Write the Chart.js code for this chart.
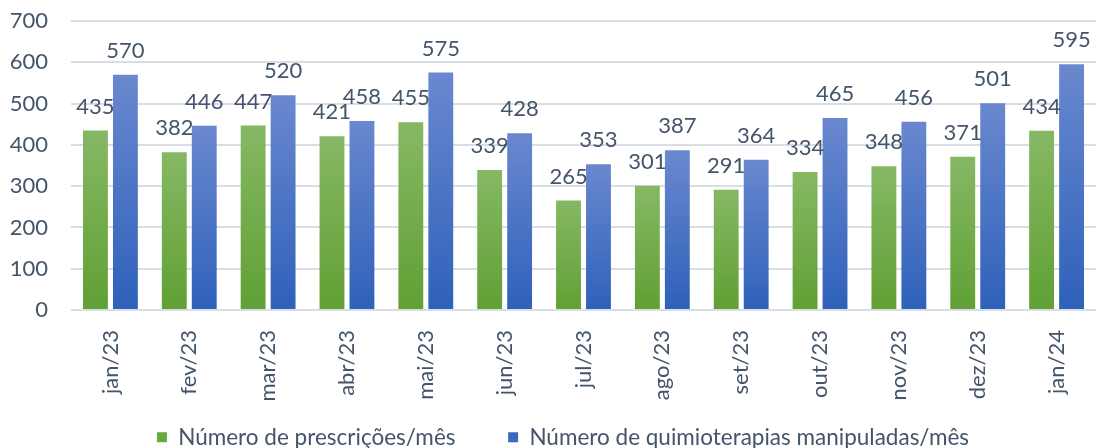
<!DOCTYPE html>
<html>
<head>
<meta charset="utf-8">
<script src="https://cdn.jsdelivr.net/npm/chart.js@4.4.1/dist/chart.umd.min.js"></script>
<style>
    html, body { margin: 0; padding: 0; background: #fff; }
    #wrap { width: 1096px; height: 448px; position: relative; }
</style>
</head>
<body>
<div id="wrap"><canvas id="chart"></canvas></div>
<script>
'use strict';

// ============================================================================
// Data
// ============================================================================

const months = ['jan/23', 'fev/23', 'mar/23', 'abr/23', 'mai/23', 'jun/23', 'jul/23',
    'ago/23', 'set/23', 'out/23', 'nov/23', 'dez/23', 'jan/24'];
const prescricoes = [435, 382, 447, 421, 455, 339, 265, 301, 291, 334, 348, 371, 434];
const quimioterapias = [570, 446, 520, 458, 575, 428, 353, 387, 364, 465, 456, 501, 595];
const seriesNames = ['Número de prescrições/mês', 'Número de quimioterapias manipuladas/mês'];

// ============================================================================
// Styles
// ============================================================================

const TEXT = '#44546a';
const FONT = "Lato, 'Noto Sans', sans-serif";
const FONT_SIZE = 22;
const GRID = '#d9dde4';
const PLOT_BOTTOM = 310;

// gradient per bar, lighter at the top
function barGradient(top, bottom) {
    return function(ctx) {
        const chart = ctx.chart;
        const y = chart.scales.y;
        if (!y || ctx.raw === undefined) return bottom;
        const y0 = y.getPixelForValue(0);
        const y1 = y.getPixelForValue(ctx.raw);
        if (!isFinite(y0) || !isFinite(y1) || y0 === y1) return bottom;
        const g = chart.ctx.createLinearGradient(0, y1, 0, y0);
        g.addColorStop(0, top);
        g.addColorStop(1, bottom);
        return g;
    };
}

// value labels above each bar
const valueLabels = {
    id: 'valueLabels',
    afterDatasetsDraw(chart) {
        const ctx = chart.ctx;
        ctx.save();
        ctx.font = FONT_SIZE + 'px ' + FONT;
        ctx.fillStyle = TEXT;
        ctx.textAlign = 'center';
        ctx.textBaseline = 'middle';
        chart.data.datasets.forEach((ds, i) => {
            chart.getDatasetMeta(i).data.forEach((bar, j) => {
                ctx.fillText(String(ds.data[j]), bar.x, bar.y - 24);
            });
        });
        ctx.restore();
    }
};

// nudge the legend a bit right and down, like the original
const legendShift = {
    id: 'legendShift',
    afterLayout(chart) {
        if (!chart.legend) return;
        chart.legend.left += 30;
        chart.legend.top = 424;
    }
};

new Chart(document.getElementById('chart'), {
    type: 'bar',
    data: {
        labels: months,
        datasets: [
            {
                label: seriesNames[0] + '\u2003\u2003\u2002\u2005',
                data: prescricoes,
                backgroundColor: barGradient('#86b864', '#60a034'),
                categoryPercentage: 0.76,
                barPercentage: 0.83
            },
            {
                label: seriesNames[1],
                data: quimioterapias,
                backgroundColor: barGradient('#6a88cf', '#2e61ba'),
                categoryPercentage: 0.76,
                barPercentage: 0.83
            }
        ]
    },
    options: {
        responsive: true,
        maintainAspectRatio: false,
        animation: false,
        layout: { autoPadding: false, padding: { top: 21, right: 0, left: 0, bottom: 0 } },
        plugins: {
            legend: {
                position: 'bottom',
                labels: {
                    color: TEXT,
                    font: { family: FONT, size: 22.5 },
                    boxWidth: 10,
                    boxHeight: 10,
                    padding: 2,
                    generateLabels(chart) {
                        return chart.data.datasets.map((ds, i) => ({
                            text: ds.label,
                            fillStyle: i === 0 ? '#6aa840' : '#3a69c0',
                            strokeStyle: 'rgba(0,0,0,0)',
                            lineWidth: 0,
                            fontColor: TEXT,
                            datasetIndex: i
                        }));
                    }
                }
            },
            tooltip: { enabled: false }
        },
        scales: {
            x: {
                grid: { display: false },
                border: { display: false },
                ticks: {
                    color: TEXT,
                    font: { family: FONT, size: FONT_SIZE },
                    minRotation: 90,
                    maxRotation: 90,
                    padding: 12
                },
                afterFit(scale) {
                    const lg = scale.chart.legend;
                    scale.height = 448 - PLOT_BOTTOM - (lg ? lg.height : 0);
                }
            },
            y: {
                min: 0,
                max: 700,
                ticks: {
                    stepSize: 100,
                    color: TEXT,
                    font: { family: FONT, size: FONT_SIZE },
                    padding: 23
                },
                grid: { color: GRID, lineWidth: 2, drawTicks: false },
                border: { display: false },
                afterFit(scale) {
                    scale.width = 71;
                    scale.paddingTop = 0;
                    scale.paddingBottom = 0;
                }
            }
        }
    },
    plugins: [valueLabels, legendShift]
});
</script>
</body>
</html>
